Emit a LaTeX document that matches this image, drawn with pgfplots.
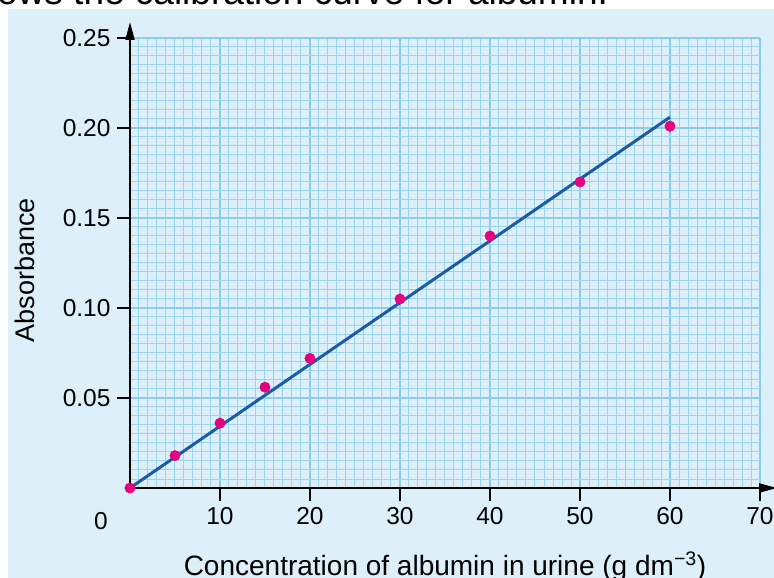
\documentclass[border=0pt]{standalone}
\usepackage{fontspec}
\setmainfont{Liberation Sans}
\usepackage{pgfplots}
\pgfplotsset{compat=1.18}
\usetikzlibrary{arrows.meta}
\definecolor{bgblue}{HTML}{DDF0FA}
\definecolor{gridminor}{HTML}{9AD4F0}
\definecolor{gridmajor}{HTML}{88CCEE}
\definecolor{lineblue}{HTML}{1A5CA8}
\definecolor{dotmag}{HTML}{E5007D}
\begin{document}
\begin{tikzpicture}
\fill[bgblue] (-122pt,-95pt) rectangle (650pt,479pt);
\node[anchor=base west, font=\fontsize{37}{42}\selectfont, inner sep=0pt] at (-133pt,483pt) {ows the calibration curve for albumin.};
\begin{axis}[
  at={(0pt,0pt)}, anchor=south west,
  x=9pt, y=1800pt,
  xmin=0, xmax=70, ymin=0, ymax=0.25,
  axis x line=bottom, axis y line=left,
  axis line style={-, line width=2pt, black},
  xtick={10,20,...,70}, ytick={0.05,0.10,0.15,0.20,0.25},
  minor xtick={1,2,...,69}, minor ytick={0.005,0.010,...,0.245},
  grid=both,
  major grid style={line width=1.6pt, gridmajor},
  minor grid style={line width=1pt, gridminor},
  major tick length=13pt, minor tick length=0pt,
  tick align=outside,
  tick style={line width=2pt, black},
  ticklabel style={font=\fontsize{24.5}{28}\selectfont},
  /pgf/number format/assume math mode=true,
  scaled y ticks=false,
  yticklabel style={/pgf/number format/fixed, /pgf/number format/fixed zerofill, /pgf/number format/precision=2, xshift=-3pt},
  xticklabel style={yshift=-3pt},
  clip=false,
  xlabel={Concentration of albumin in urine (g dm\textsuperscript{−3})},
  xlabel style={font=\fontsize{28}{32}\selectfont, at={(axis description cs:0.5,0)}, anchor=base, yshift=-87pt},
  ylabel={Absorbance},
  ylabel style={font=\fontsize{27}{32}\selectfont, at={(axis description cs:-0.1667,0.4844)}, anchor=center},
]
\addplot[lineblue, line width=3pt] coordinates {(0,0) (60,0.206)};
\addplot[only marks, mark=*, color=dotmag, mark size=5.2pt] coordinates {(0,0) (5,0.018) (10,0.036) (15,0.056) (20,0.072) (30,0.105) (40,0.140) (50,0.170) (60,0.201)};
\draw[line width=2pt, -{Triangle[length=18pt,width=9pt]}] (axis cs:0,0.2) -- (axis cs:0,0.2589);
\draw[line width=2pt, -{Triangle[length=18pt,width=9pt]}] (axis cs:60,0) -- (axis cs:71.9,0);
\node[font=\fontsize{24.5}{28}\selectfont, anchor=center, xshift=-29pt, yshift=-33pt] at (axis cs:0,0) {0};
\end{axis}
\pgfresetboundingbox
\useasboundingbox (-130pt,-90pt) rectangle (644pt,488pt);
\end{tikzpicture}
\end{document}
